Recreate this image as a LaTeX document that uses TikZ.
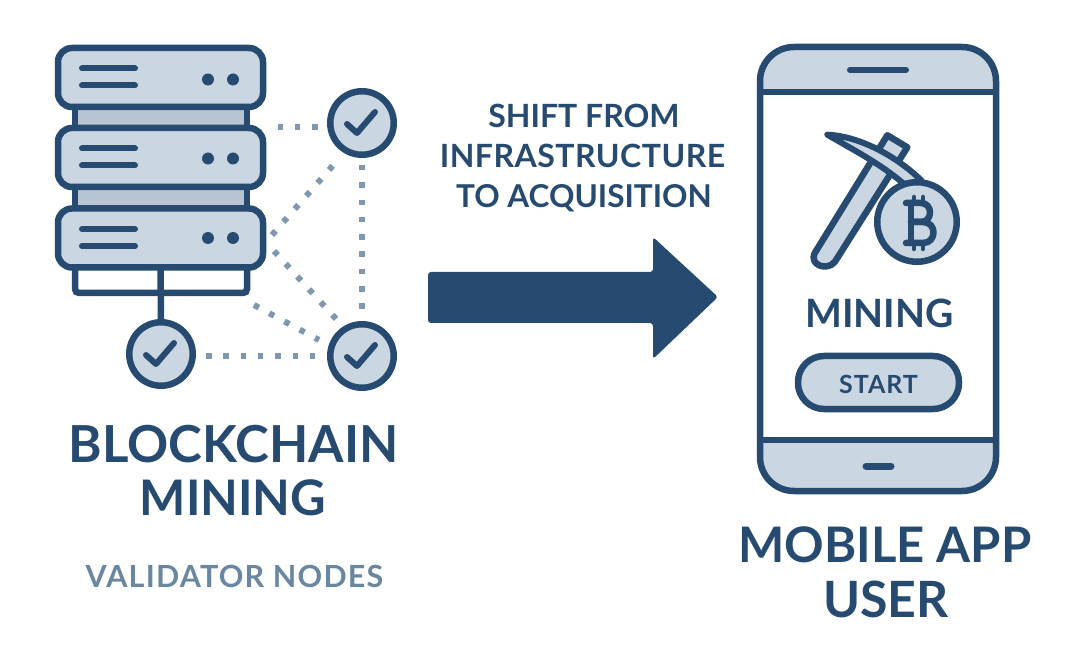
\documentclass[tikz,border=0pt]{standalone}
\usepackage{fontspec}
\setmainfont{Lato}[BoldFont={* Bold}]
\newfontfamily\labelfont{Lato Bold}
\newfontfamily\spacedfont[LetterSpace=4]{Lato Bold}
\newfontfamily\tightfont[LetterSpace=1.5]{Lato Bold}
\definecolor{ink}{HTML}{274B70}
\definecolor{soft}{HTML}{CAD6E1}
\definecolor{band}{HTML}{B7C5D3}
\definecolor{dotc}{HTML}{7F98AF}
\definecolor{pale}{HTML}{6A87A1}
\newcommand{\lab}[3][\labelfont]{{\fontsize{#2}{#2}\selectfont #1{}#3}}
\tikzset{
  x=1pt,y=-1pt,
  outline/.style={draw=ink,line width=6.5pt},
  serverbox/.style={outline,fill=soft,rounded corners=14pt,minimum width=205pt,minimum height=59pt,inner sep=0pt,outer sep=0pt},
  checkcirc/.style={circle,outline,fill=soft,minimum size=63.5pt,inner sep=0pt,outer sep=0pt},
  bar/.style={ink,line width=6pt,line cap=round},
  tick/.style={ink,line width=6pt,line cap=round,line join=round},
  dots/.style={dotc,line width=6pt,dash pattern=on 5.5pt off 11.8pt},
  lbl/.style={ink,inner sep=0pt,anchor=base},
}
\newcommand{\chk}[1]{\draw[tick] ([shift={(-15,1)}]#1.center) -- ([shift={(-5,10)}]#1.center) -- ([shift={(13,-11)}]#1.center);}
\newcommand{\srv}[3]{
  \node[serverbox] (#1) at (160.5,#2) {};
  \draw[bar] (82,#2-9) -- (135,#2-9);
  \draw[bar] (82,#2+8) -- (135,#2+8);
  \fill[ink] (208,#2+#3) circle (6) (233,#2+#3) circle (6);
}
\begin{document}
\begin{tikzpicture}
\useasboundingbox (0,0) rectangle (1080,663);
\fill[white] (0,0) rectangle (1080,663);
% server spacers
\draw[outline,fill=band] (75,105) rectangle (247,130);
\draw[outline,fill=band] (75,185) rectangle (247,210);
\draw[outline,rounded corners=4pt] (75,265) -- (75,293) -- (247,293) -- (247,265);
\srv{s1}{77.5}{2}
\srv{s2}{157.5}{1}
\srv{s3}{238}{0}
% check nodes
\node[checkcirc] (c1) at (362,123) {};
\node[checkcirc] (c2) at (161,354) {};
\node[checkcirc] (c3) at (362,356) {};
\coordinate (a1) at (277.5,127);
\coordinate (a2) at (272,235);
\coordinate (a3) at (274,251);
\coordinate (a4) at (254,305);
\coordinate (e1) at (320,127);
\coordinate (e2) at (336,162);
\coordinate (e3) at (338,321);
\coordinate (e4) at (319,340);
\coordinate (v1) at (362,165);
\coordinate (v2) at (362,310);
\coordinate (h1) at (206,356);
\coordinate (h2) at (320,356);
\draw[dots] (a1) -- (e1);
\draw[dots] (a2) -- (e2);
\draw[dots] (a3) -- (e3);
\draw[dots] (a4) -- (e4);
\draw[dots] (v1) -- (v2);
\draw[dots] (h1) -- (h2);
\draw[ink,line width=6.5pt] (s3.south) -- (c2.north);
\chk{c1}\chk{c2}\chk{c3}
% labels left
\node[lbl] (t1) at (233.5,462) {\lab{51}{BLOCKCHAIN}};
\node[lbl] (t2) at (233,515) {\lab{49}{MINING}};
\node[lbl,pale] (t3) at (234.5,587) {\lab[\spacedfont]{30.5}{VALIDATOR NODES}};
% middle
\node[lbl] (m1) at (584,128) {\lab{32}{SHIFT FROM}};
\node[lbl] (m2) at (582.5,168) {\lab[\tightfont]{32}{INFRASTRUCTURE}};
\node[lbl] (m3) at (584,208) {\lab{31.5}{TO ACQUISITION}};
\fill[ink,rounded corners=3pt] (428,272) -- (653,272) -- (653,237) -- (718,297) -- (653,359) -- (653,323) -- (428,323) -- cycle;
% phone
\fill[soft,rounded corners=34pt] (760,47) rectangle (996,491);
\fill[white] (760,92) rectangle (996,440);
\draw[outline,rounded corners=34pt] (760,47) rectangle (996,491);
\draw[ink,line width=6.5pt] (760,92) -- (996,92);
\draw[ink,line width=6.5pt] (760,440) -- (996,440);
\draw[bar] (850,70) -- (906,70);
\draw[bar,line width=7pt] (866,466) -- (891,466);
% pickaxe (in 3x crop coordinates)
\begin{scope}[shift={(740,30)},x=0.3333pt,y=-0.3333pt]
\draw[outline,fill=soft,line join=round] (442,316) -- (502,352) -- (285,695) .. controls (262,725) and (205,705) .. (225,668) -- cycle;
\draw[ink,fill=soft,line width=6pt,line join=round] (262,314) .. controls (350,318) and (460,370) .. (545,452) -- (492,462) .. controls (420,400) and (340,360) .. (262,314) -- cycle;
\end{scope}
\node[circle,outline,fill=soft,minimum size=79.5pt,inner sep=0pt,outer sep=0pt] (coin) at (917,222) {};
\begin{scope}[ink,line width=6.5pt,line cap=round,line join=round]
\draw (911,203) -- (911,243);
\draw (906,203) -- (921,203) .. controls (933,203) and (933,222) .. (921,222) -- (911,222);
\draw (911,222) -- (923,222) .. controls (937,222) and (937,243) .. (923,243) -- (906,243);
\draw[line width=4.5pt] (914,197) -- (914,200) (923,197) -- (923,200) (914,246) -- (914,249) (923,246) -- (923,249);
\end{scope}
\node[lbl] (p1) at (879.5,328) {\lab{39}{MINING}};
\node[outline,fill=soft,rounded corners=26pt,minimum width=161pt,minimum height=53pt,inner sep=0pt] (btn) at (878.5,382.5) {};
\node[lbl] (p2) at (878.5,393) {\lab[\spacedfont]{25}{START}};
\node[lbl] (p3) at (885,562) {\lab{49}{MOBILE APP}};
\node[lbl] (p4) at (886,617) {\lab{50}{USER}};
\end{tikzpicture}
\end{document}
